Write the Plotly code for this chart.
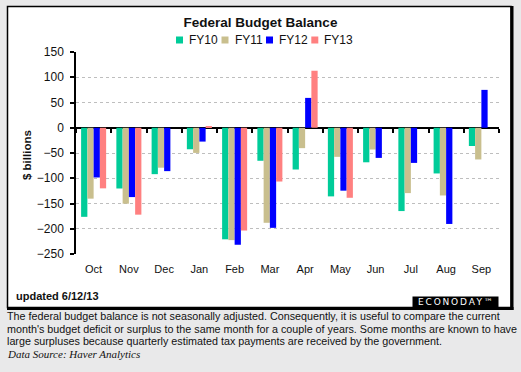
import plotly.graph_objects as go

MONTHS = ["Oct", "Nov", "Dec", "Jan", "Feb", "Mar", "Apr", "May", "Jun", "Jul", "Aug", "Sep"]
FY10 = [-176.4, -120.3, -91.9, -42.6, -220.9, -65.4, -82.7, -135.9, -68.4, -165.0, -90.5, -36.1]
FY11 = [-140.4, -150.4, -79.1, -49.8, -222.5, -188.2, -40.4, -57.6, -43.1, -129.4, -134.1, -62.8]
FY12 = [-98.5, -137.3, -85.9, -27.4, -231.7, -198.2, 59.1, -124.6, -59.7, -69.6, -190.5, 75.0]
FY13 = [-120.0, -172.1, None, 2.9, -203.5, -106.5, 112.9, -138.7, None, None, None, None]
SERIES = ["FY10", "FY11", "FY12", "FY13"]
Y_TICKS = [150, 100, 50, 0, -50, -100, -150, -200, -250]

COLORS = ["#00CC99", "#C9BF8E", "#0000FF", "#FF8080"]
FONT = "Arial, Liberation Sans, sans-serif"
BG = "#E9E9EA"

W, H = 521, 372
PL, PT, PW, PH = 76, 52, 423, 202


def px(x):
    return (x - PL) / PW


def py(y):
    return (PT + PH - y) / PH


fig = go.Figure()
for name, vals, col in zip(SERIES, [FY10, FY11, FY12, FY13], COLORS):
    fig.add_trace(go.Bar(x=MONTHS, y=vals, name=name, marker=dict(color=col, line=dict(width=0))))

# invisible helper trace so the zero-line tick axis knows the categories
fig.add_trace(go.Scatter(x=MONTHS, y=[None] * len(MONTHS), xaxis="x2", mode="markers",
                         showlegend=False, hoverinfo="skip"))

shapes = []
# chart frame
shapes.append(dict(type="rect", xref="paper", yref="paper", layer="below",
                   x0=px(7.5), x1=px(511), y0=py(6.5), y1=py(307.5),
                   fillcolor="white", line=dict(color="black", width=1.5)))
shapes.append(dict(type="line", xref="paper", yref="paper", layer="below",
                   x0=px(512), x1=px(512), y0=py(6), y1=py(310),
                   line=dict(color="black", width=3)))
shapes.append(dict(type="line", xref="paper", yref="paper", layer="below",
                   x0=px(7), x1=px(513.5), y0=py(308.5), y1=py(308.5),
                   line=dict(color="black", width=3)))

annotations = []
# legend
leg_marker_x = [179.5, 225, 269.5, 314.8]
leg_text_x = [187, 233, 276.5, 322]
for name, col, mx, tx in zip(SERIES, COLORS, leg_marker_x, leg_text_x):
    shapes.append(dict(type="rect", xref="paper", yref="paper",
                       x0=px(mx - 3.5), x1=px(mx + 3.5), y0=py(43.5), y1=py(36.5),
                       fillcolor=col, line=dict(width=0)))
    annotations.append(dict(text=name, xref="paper", yref="paper", x=px(tx), y=py(40.5),
                            xanchor="left", yanchor="middle", showarrow=False,
                            font=dict(family=FONT, size=12, color="#111")))

annotations.append(dict(text="<b>$ billions</b>", xref="paper", yref="paper", x=px(27), y=py(155),
                        textangle=-90, xanchor="center", yanchor="middle", showarrow=False,
                        font=dict(family=FONT, size=11.5, color="#111")))
annotations.append(dict(text="<b>updated 6/12/13</b>", xref="paper", yref="paper", x=px(13.5), y=py(295.5),
                        xanchor="left", yanchor="middle", showarrow=False,
                        font=dict(family=FONT, size=11, color="#111")))
annotations.append(dict(text="E\u2009C\u2009O\u2009N\u2009O\u2009D\u2009A\u2009Y\u2009\u2122",
                        xref="paper", yref="paper", x=px(455.5), y=py(302),
                        xanchor="center", yanchor="middle", showarrow=False,
                        bgcolor="black", width=85, height=10, borderpad=0,
                        font=dict(family="DejaVu Sans, sans-serif", size=9, color="white")))

lines = [
    "The federal budget balance is not seasonally adjusted. Consequently, it is useful to compare the current",
    "month's budget deficit or surplus to the same month for a couple of years. Some months are known to have",
    "large surpluses because quarterly estimated tax payments are received by the government.",
]
for i, ln in enumerate(lines):
    annotations.append(dict(text=ln, xref="paper", yref="paper", x=px(5), y=py(316 + i * 12.7),
                            xanchor="left", yanchor="middle", showarrow=False,
                            font=dict(family=FONT, size=10.75, color="#111")))
annotations.append(dict(text="<i>Data Source: Haver Analytics</i>", xref="paper", yref="paper",
                        x=px(5), y=py(353.5), xanchor="left", yanchor="middle", showarrow=False,
                        font=dict(family="Times New Roman, Liberation Serif, serif", size=11, color="#111")))

fig.update_layout(
    width=W, height=H,
    margin=dict(l=PL, r=W - PL - PW, t=PT, b=H - PT - PH, pad=0),
    paper_bgcolor=BG, plot_bgcolor="white",
    barmode="group", bargap=0.29, bargroupgap=0,
    showlegend=False,
    title=dict(text="<b>Federal Budget Balance</b>", x=0.5, xref="container", xanchor="center",
               y=1 - 22.7 / H, yref="container", yanchor="middle",
               font=dict(family=FONT, size=13.5, color="#111")),
    shapes=shapes, annotations=annotations,
    xaxis=dict(type="category", showline=False, ticks="", showgrid=False, zeroline=False,
               tickfont=dict(family=FONT, size=11, color="#111"), ticklabelstandoff=7,
               range=[-0.5, 11.5]),
    xaxis2=dict(type="category", overlaying="x", anchor="free", position=250 / 400, side="bottom",
                range=[-0.5, 11.5], tickson="boundaries", ticks="outside", ticklen=4,
                tickwidth=1.5, tickcolor="black", showticklabels=False, showgrid=False,
                showline=False, zeroline=False),
    yaxis=dict(range=[-250, 150], tickvals=Y_TICKS, showgrid=True, gridcolor="#BEBEBE",
               griddash="3px,3px", gridwidth=1, zeroline=True, zerolinecolor="black",
               zerolinewidth=1.5, showline=True, linecolor="black", linewidth=1.5,
               ticks="outside", ticklen=4, tickcolor="black", tickwidth=1.5,
               tickfont=dict(family=FONT, size=12, color="#111"), ticklabelstandoff=4),
)

fig.write_html(
    "out.html",
    config={"displayModeBar": False},
    post_script="document.body.style.margin='0';document.body.style.background='" + BG + "';",
)
